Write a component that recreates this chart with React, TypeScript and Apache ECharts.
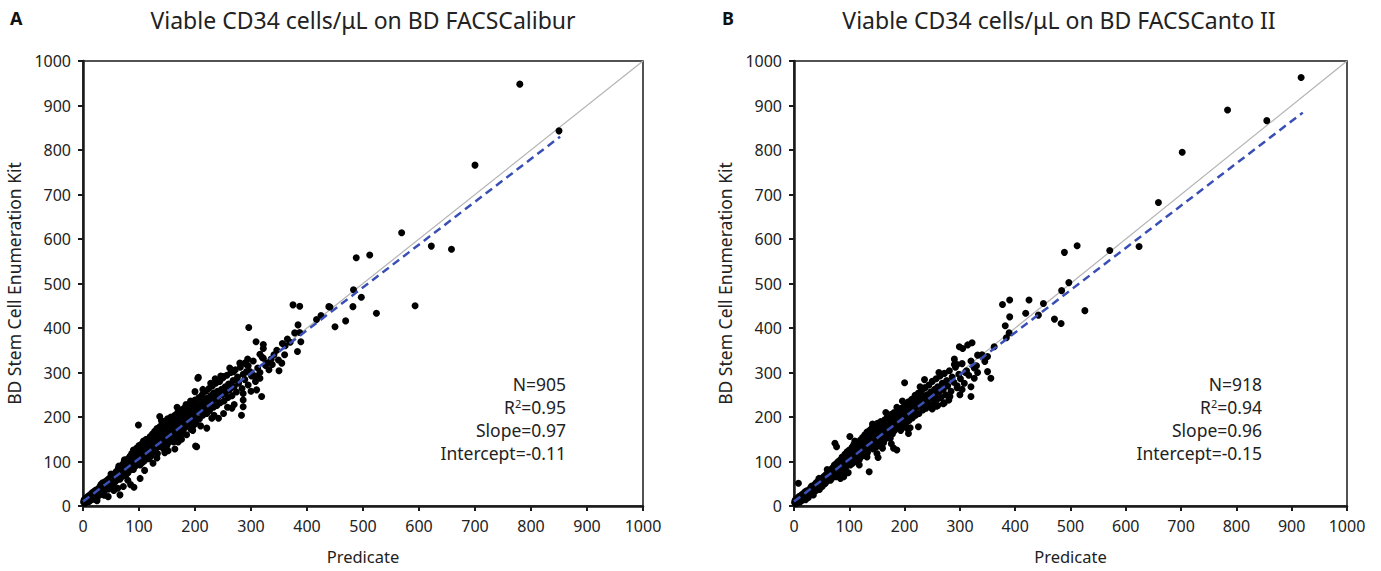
import React, { useEffect, useRef } from "react";
import * as echarts from "echarts";

const titleA = "Viable CD34 cells/μL on BD FACSCalibur";
const titleB = "Viable CD34 cells/μL on BD FACSCanto II";
const xName = "Predicate";
const yName = "BD Stem Cell Enumeration Kit";

const statsA = { n: "905", r2: "0.95", slope: "0.97", intercept: "-0.11" };
const statsB = { n: "918", r2: "0.94", slope: "0.96", intercept: "-0.15" };

const identityLine = [[0, 0], [1000, 1000]];
const fitLineA = [[0, 10], [852, 830]];
const fitLineB = [[0, 10], [920, 884]];

const aLow = [
  [1,9],[2,14],[3,6],[4,17],[5,11],[6,8],[7,19],[8,13],[9,22],[10,16],[11,10],[12,24],[13,18],[14,27],[15,14],[16,21],[17,30],[18,19],[19,25],[20,33],[20,22],[21,15],[22,28],[23,36],[24,25],[25,31],[26,20],[27,38],[28,29],[29,34],[30,43],[30,27],[31,37],[32,48],[33,32],[34,41],[35,26],[36,45],[37,38],[38,51],[39,42],[40,36],[40,55],[41,47],[42,40],[43,58],[44,49],[45,44],[46,61],[46,38],[47,53],[48,47],[49,64],[50,56],[51,45],[52,66],[52,59],[53,51],[54,70],[55,61],[56,52],[57,73],[58,64],[58,56],[59,77],[60,67],[60,58],
  [45,21],[66,25],[91,42],[102,62],[85,48],[72,44],[55,35],[38,24],[25,12],[62,40],[80,58]
];
const aMid = [
  [61,74],[62,62],[63,84],[64,70],[65,78],[66,60],[67,88],[68,76],[69,66],[70,92],[70,80],[71,70],[72,86],[73,98],[74,78],[75,90],[76,68],[77,102],[78,86],[79,94],[80,74],[80,106],[81,90],[82,98],[83,80],[84,112],[85,94],[86,86],[86,104],[87,118],[88,92],[89,100],[90,82],[90,114],[91,98],[92,124],[93,106],[94,90],[95,118],[96,104],[96,130],[97,94],[98,112],[99,122],[100,100],[100,136],[101,116],[102,92],[103,128],[104,108],[105,140],[106,98],[107,122],[108,112],[108,146],[109,130],[110,102],[111,138],[112,120],[113,150],[114,110],[115,132],[116,124],[117,146],[118,106],[119,138],[120,128],[120,156],
  [121,112],[122,144],[123,134],[124,162],[125,120],[126,150],[127,138],[128,168],[129,126],[130,156],[131,144],[132,174],[133,118],[134,160],[135,148],[136,134],[137,178],[138,156],[139,140],[140,166],[141,184],[142,150],[143,130],[144,172],[145,158],[146,190],[147,142],[148,168],[149,180],[150,154],[150,136],[151,196],[152,172],[153,160],[154,144],[155,186],[156,166],[157,200],[158,150],[159,178],[160,190],[161,162],[162,144],[163,182],[164,204],[165,170],[166,156],[167,194],[168,180],[169,210],[170,164],[171,188],[172,200],[173,174],[174,156],[175,196],[176,216],[177,182],[178,166],[179,204],[180,190],[181,220],[182,176],[183,208],[184,194],[185,160],[186,214],[187,200],[188,182],[189,226],[190,206],[191,188],[192,218],[193,172],[194,208],[195,232],[196,194],[197,214],[198,182],[199,224],[200,204],[200,238]
];
const aHigh = [
  [202,188],[204,226],[205,212],[207,244],[208,196],[210,230],[211,216],[213,250],[214,204],[216,236],[217,222],[219,258],[220,210],[222,242],[223,228],[225,264],[226,214],[228,248],[230,234],[231,270],[233,222],[234,254],[236,240],[237,276],[239,226],[240,258],[242,246],[244,280],[245,232],[247,262],[249,250],[250,288],[252,236],[254,268],[255,256],[257,294],[259,244],[260,274],[262,262],[264,300],[266,248],[268,282],[270,268],[272,306],[274,256],[276,290],[278,276],[281,312],[284,264],[286,296],[289,284],[292,318],[295,272],[298,302],[301,292],[304,326],[308,280],[312,310],[316,300],[320,334],[326,316],[332,306]
];
const aEdge = [
  [118,150],[132,108],[146,120],[158,196],[176,150],[192,236],[210,180],[234,204],[258,222],[246,292],[270,228],[294,330],[300,258],[236,286],[214,262],[184,228],[164,128],[110,80],[125,96],[90,126],[74,104],[64,90],[50,72],[35,52],[140,192],[152,124],[168,222],[196,170],[228,276],[262,310]
];
const aOutliers = [
  [296,401],[309,369],[322,363],[322,354],[316,341],[322,332],[328,321],[280,321],[289,321],[295,315],[269,302],[275,283],[292,302],[304,294],[310,291],[316,287],[310,261],[319,246],[286,253],[286,238],[286,223],[283,204],[266,220],[251,208],[242,197],[230,197],[221,220],[221,208],[205,287],[200,257],[206,289],[251,291],[99,182],[137,201],[170,144],[203,133],[221,175],[201,135],
  [336,330],[341,340],[346,350],[356,365],[365,375],[370,368],[360,340],[338,318],
  [349,328],[355,321],[350,304],[361,360],[375,452],[387,449],[383,347],[389,369],[378,389],[387,390],[384,407],[425,428],[417,419],[441,447],[450,403],[469,416],[439,448],[482,448],[483,486],[497,469],[524,433],[593,450],[488,558],[512,564],[569,614],[622,584],[658,577],[700,766],[780,948],[850,843]
];

const bLow = [
  [1,8],[2,13],[3,5],[4,16],[5,10],[6,7],[7,18],[8,12],[8,51],[9,21],[10,15],[11,9],[12,23],[13,17],[14,25],[15,13],[16,20],[17,28],[18,18],[19,24],[20,32],[20,21],[21,14],[22,27],[23,34],[24,23],[25,30],[26,19],[27,36],[28,28],[29,33],[30,41],[30,26],[31,36],[32,45],[33,31],[34,40],[35,25],[36,43],[37,37],[38,49],[39,41],[40,35],[40,52],[41,45],[42,39],[43,55],[44,47],[45,42],[46,58],[46,37],[47,51],[48,45],[49,61],[50,54],[51,44],[52,63],[52,56],[53,49],[54,66],[55,58],[56,50],[57,69],[58,61],[58,54],[59,72],[60,64],[60,56],
  [61,70],[62,60],[63,78],[64,66],[65,74],[66,58],[67,82],[68,72],[69,63],[70,86],[70,76],[71,67],[72,82],[73,92],[74,74],[75,86],[76,66],[77,96],[78,82],[79,90],[80,72],[80,100],[81,86],[82,94],[83,78],[84,104],[85,90],[86,82],[86,98],[87,110],[88,88],[89,96],[90,80],[90,108],[91,94],[92,116],[93,100],[94,88],[95,112],[96,100],[96,122],[97,92],[98,106],[99,116],[100,98],[100,126],[101,110],[102,92],[103,122],[104,104],[105,132],[106,96],[107,118],[108,108],[108,138],[109,124],[110,100],[111,132],[112,116],[113,142],[114,108],[115,128],[116,120],[117,140],[118,104],[119,132],[120,124],[120,148],
  [74,141],[77,133],[101,156],[136,77],[152,109],[98,75],[90,66]
];
const bMid = [
  [121,110],[122,138],[123,128],[124,154],[125,118],[126,144],[127,134],[128,160],[129,124],[130,150],[131,140],[132,166],[133,120],[134,154],[135,144],[136,132],[137,170],[138,150],[139,138],[140,160],[141,176],[142,146],[143,128],[144,166],[145,154],[146,182],[147,140],[148,162],[149,174],[150,150],[150,134],[151,186],[152,166],[153,156],[154,142],[155,178],[156,160],[157,190],[158,148],[159,172],[160,182],[161,158],[162,142],[163,176],[164,194],[165,164],[166,152],[167,186],[168,174],[169,200],[170,160],[171,182],[172,192],[173,168],[174,152],[175,188],[176,206],[177,176],[178,162],[179,196],[180,184],[181,210],[182,170],[183,200],[184,188],[186,204],[187,194],[188,178],[189,214],[190,198],[191,184],[192,210],[193,170],[194,202],[195,220],[196,190],[197,206],[198,180],[199,214],[200,198],[200,226],
  [180,130],[186,126],[204,175],[207,163],[225,178],[219,249],[200,277]
];
const bHigh = [
  [202,186],[204,218],[205,206],[207,234],[208,192],[210,222],[211,210],[213,240],[214,198],[216,228],[217,216],[219,246],[220,204],[222,234],[223,222],[225,254],[226,208],[228,240],[230,228],[231,260],[233,216],[234,246],[236,234],[237,266],[239,220],[240,250],[242,240],[244,272],[245,226],[247,256],[249,244],[250,280],[252,232],[254,262],[255,250],[257,286],[259,240],[260,268],[262,256],[264,292],[266,244],[268,276],[270,262],[272,298],[274,250],[276,282],[278,270],[281,304],[284,258],[286,290],[289,278],[292,312],[295,266],[298,296],[301,286],[304,320],[308,276],[312,304],[316,294],[320,326],[326,310],[332,300]
];
const bEdge = [
  [118,92],[132,110],[150,118],[166,210],[176,140],[196,236],[210,176],[236,284],[258,224],[272,232],[290,318],[304,262],[60,82],[45,62],[84,62],[110,146],[142,184],[160,130],[186,222],[228,268],[262,300],[282,246]
];
const bOutliers = [
  [290,330],[295,318],[305,354],[299,358],[314,362],[322,367],[332,339],[350,336],[350,302],[356,287],[362,358],[320,246],[320,268],[326,287],[300,250],[295,270],[280,238],[270,230],[260,226],[250,218],[240,232],[230,248],[340,340],[345,325],[330,315],[310,300],
  [384,378],[389,389],[382,405],[390,425],[377,453],[390,463],[419,433],[425,463],[442,429],[451,455],[471,420],[483,410],[484,484],[497,502],[526,439],[489,570],[512,585],[571,574],[624,583],[659,682],[702,795],[784,890],[855,866],[917,963]
];

const FONT = "'Noto Sans', 'Open Sans', sans-serif";

function makeAxis(gridIndex: number, isX: boolean) {
  return {
    type: "value",
    gridIndex,
    min: 0,
    max: 1000,
    interval: 100,
    name: isX ? xName : yName,
    nameLocation: "middle",
    nameGap: isX ? 42 : 60,
    nameTextStyle: { color: "#222", fontSize: isX ? 16.5 : 17.5, fontFamily: FONT },
    axisLine: { show: true, lineStyle: { color: "#1a1a1a", width: 2.5 } },
    axisTick: { show: true, inside: false, length: 5, lineStyle: { color: "#1a1a1a", width: 2 } },
    axisLabel: {
      color: "#222",
      fontSize: 16,
      fontFamily: FONT,
      margin: 12,
      formatter: (v: number) => String(v),
    },
    splitLine: { show: false },
  };
}

function statsText(right: number, s: { n: string; r2: string; slope: string; intercept: string }) {
  const base = { fontSize: 17.5, fontFamily: FONT, fill: "#222", align: "right", verticalAlign: "middle" };
  return [
    { type: "text", x: right, y: 384, style: { ...base, text: `N=${s.n}` } },
    {
      type: "text",
      x: right,
      y: 407,
      style: {
        ...base,
        text: `R{sup|2}=${s.r2}`,
        rich: {
          sup: { fontSize: 11, fontFamily: FONT, fill: "#222", verticalAlign: "top", padding: [0, 0, 8, 0] },
        },
      },
    },
    { type: "text", x: right, y: 430, style: { ...base, text: `Slope=${s.slope}` } },
    { type: "text", x: right, y: 453, style: { ...base, text: `Intercept=${s.intercept}` } },
  ];
}

export default function App() {
  const ref = useRef<HTMLDivElement>(null);
  useEffect(() => {
    if (!ref.current) return;
    const chart = echarts.init(ref.current, undefined, { renderer: "svg" });
    const scatterStyle = { color: "#000", opacity: 1 };
    const pointsA = [...aLow, ...aMid, ...aHigh, ...aEdge, ...aOutliers];
    const pointsB = [...bLow, ...bMid, ...bHigh, ...bEdge, ...bOutliers];
    const option: any = {
      animation: false,
      backgroundColor: "#fff",
      grid: [
        { left: 83, top: 61, width: 560, height: 445, show: true, borderColor: "#1a1a1a", borderWidth: 1.5, backgroundColor: "transparent" },
        { left: 794, top: 61, width: 553, height: 445, show: true, borderColor: "#1a1a1a", borderWidth: 1.5, backgroundColor: "transparent" },
      ],
      xAxis: [makeAxis(0, true), makeAxis(1, true)],
      yAxis: [makeAxis(0, false), makeAxis(1, false)],
      series: [
        {
          type: "line", xAxisIndex: 0, yAxisIndex: 0, data: identityLine, symbol: "none",
          lineStyle: { color: "#b4b4b4", width: 1.2 }, z: 1,
        },
        {
          type: "scatter", xAxisIndex: 0, yAxisIndex: 0, data: pointsA, symbolSize: 7,
          itemStyle: scatterStyle, z: 2,
        },
        {
          type: "line", xAxisIndex: 0, yAxisIndex: 0, data: fitLineA, symbol: "none",
          lineStyle: { color: "#3a4fb5", width: 2.5, type: [8, 5] }, z: 3,
        },
        {
          type: "line", xAxisIndex: 1, yAxisIndex: 1, data: identityLine, symbol: "none",
          lineStyle: { color: "#b4b4b4", width: 1.2 }, z: 1,
        },
        {
          type: "scatter", xAxisIndex: 1, yAxisIndex: 1, data: pointsB, symbolSize: 7,
          itemStyle: scatterStyle, z: 2,
        },
        {
          type: "line", xAxisIndex: 1, yAxisIndex: 1, data: fitLineB, symbol: "none",
          lineStyle: { color: "#3a4fb5", width: 2.5, type: [8, 5] }, z: 3,
        },
      ],
      graphic: [
        { type: "text", x: 10, y: 9, style: { text: "A", fontSize: 18, fontWeight: "bold", fontFamily: FONT, fill: "#111" } },
        { type: "text", x: 722, y: 9, style: { text: "B", fontSize: 18, fontWeight: "bold", fontFamily: FONT, fill: "#111" } },
        { type: "text", x: 363, y: 20, style: { text: titleA, fontSize: 23, fontFamily: FONT, fill: "#222", align: "center", verticalAlign: "middle" } },
        { type: "text", x: 1059, y: 20, style: { text: titleB, fontSize: 23, fontFamily: FONT, fill: "#222", align: "center", verticalAlign: "middle" } },
        ...statsText(566, statsA),
        ...statsText(1262, statsB),
      ],
    };
    chart.setOption(option);
    return () => chart.dispose();
  }, []);
  return (
    <div
      ref={ref}
      style={{ position: "absolute", left: 0, top: 0, width: 1381, height: 571, background: "#fff" }}
    />
  );
}
